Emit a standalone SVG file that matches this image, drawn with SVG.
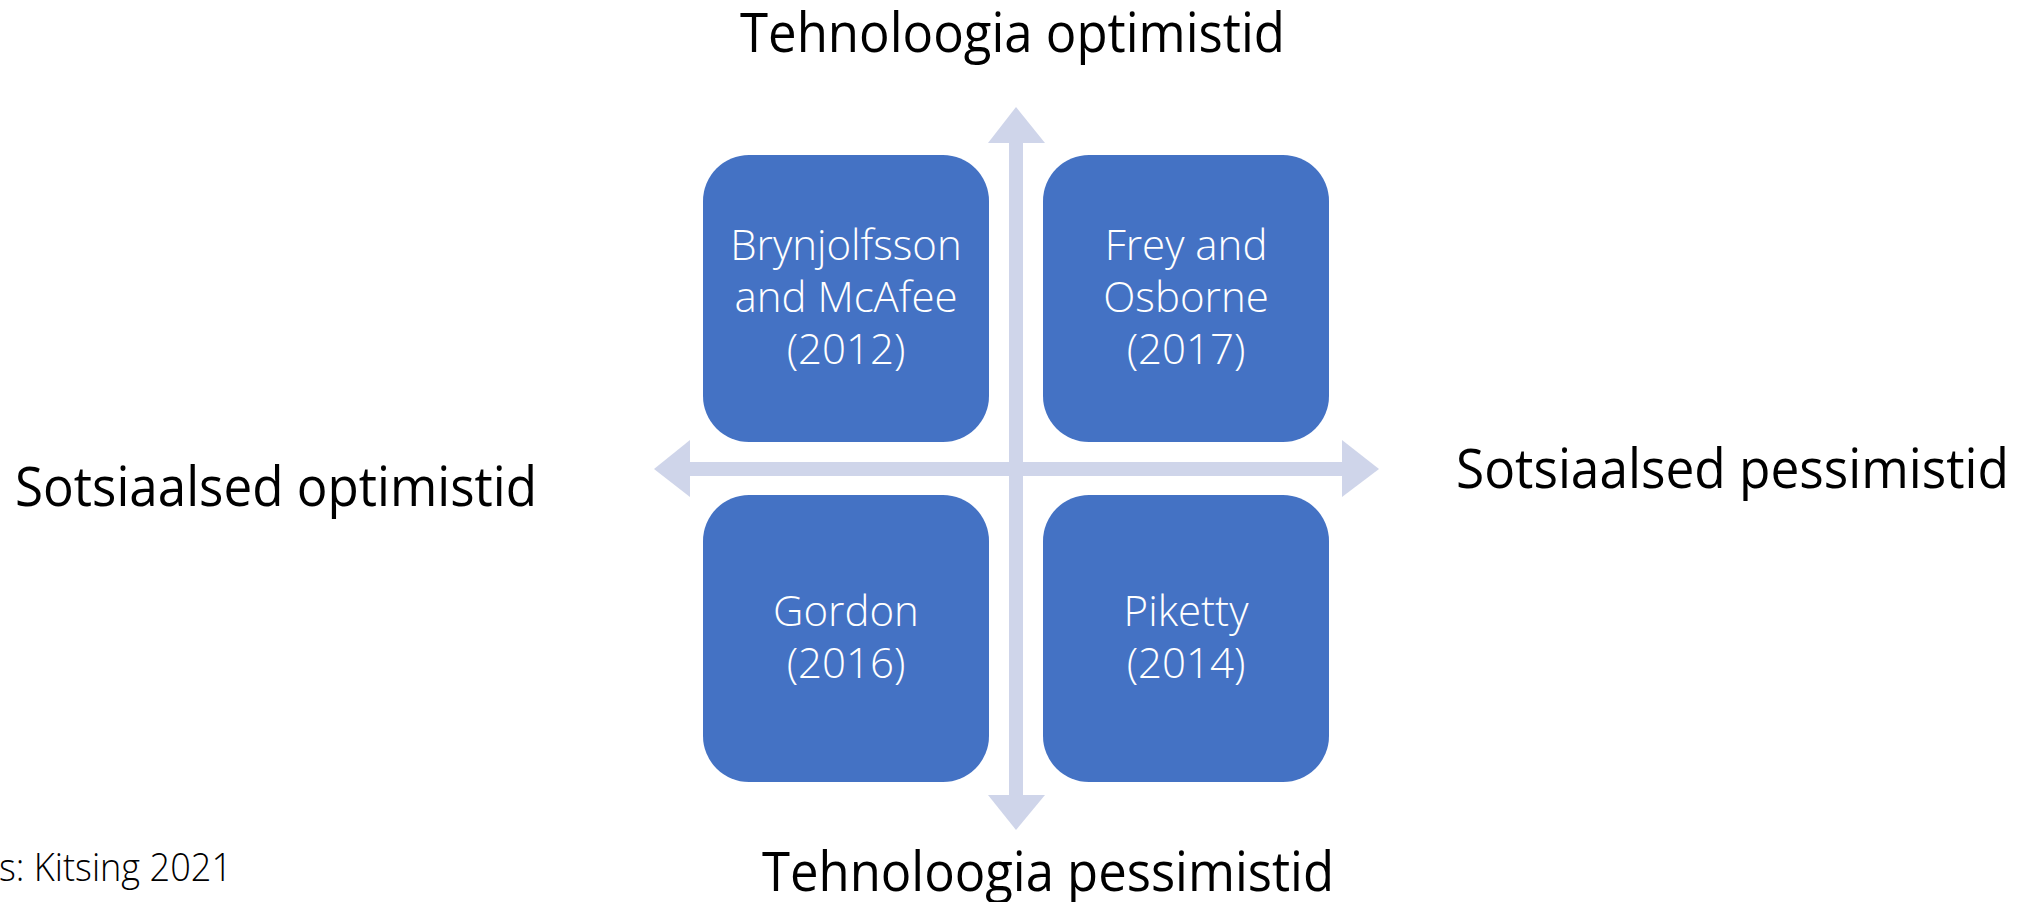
<svg xmlns="http://www.w3.org/2000/svg" width="2023" height="902" viewBox="0 0 2023 902">
  <style>
    .box { fill: #4472C4; }
    .arrow { fill: #CFD5EA; }
    .bt { font-family: "Open Sans", "Liberation Sans", sans-serif; font-weight: 300; font-size: 42px; fill: #FFFFFF; text-anchor: middle; }
    .lab { font-family: "Open Sans", "Liberation Sans", sans-serif; font-weight: 400; font-size: 55px; fill: #000000; }
    .src { font-family: "Open Sans", "Liberation Sans", sans-serif; font-weight: 300; font-size: 38px; fill: #000000; }
  </style>
  <rect width="2023" height="902" fill="#FFFFFF"/>
  <g id="connectors">
    <path class="arrow" d="M1009,142 L1009,795 L1023,795 L1023,142 Z"/>
    <polygon class="arrow" points="988,143 1016,107 1045,143"/>
    <polygon class="arrow" points="988,795 1016,830 1045,795"/>
    <path class="arrow" d="M690,462 L1342,462 L1342,476 L690,476 Z"/>
    <polygon class="arrow" points="690,440 654,469 690,497"/>
    <polygon class="arrow" points="1342,440 1379,469 1342,497"/>
  </g>
  <g id="node-brynjolfsson">
    <rect class="box" x="703" y="155" width="286" height="287" rx="46" ry="46"/>
    <text class="bt" x="846" y="260">Brynjolfsson</text>
    <text class="bt" x="846" y="312">and McAfee</text>
    <text class="bt" x="846" y="364">(2012)</text>
  </g>
  <g id="node-frey">
    <rect class="box" x="1043" y="155" width="286" height="287" rx="46" ry="46"/>
    <text class="bt" x="1186" y="260">Frey and</text>
    <text class="bt" x="1186" y="312">Osborne</text>
    <text class="bt" x="1186" y="364">(2017)</text>
  </g>
  <g id="node-gordon">
    <rect class="box" x="703" y="495" width="286" height="287" rx="46" ry="46"/>
    <text class="bt" x="846" y="626">Gordon</text>
    <text class="bt" x="846" y="678">(2016)</text>
  </g>
  <g id="node-piketty">
    <rect class="box" x="1043" y="495" width="286" height="287" rx="46" ry="46"/>
    <text class="bt" x="1186" y="626">Piketty</text>
    <text class="bt" x="1186" y="678">(2014)</text>
  </g>
  <g id="labels">
    <text class="lab" x="740" y="52" textLength="545" lengthAdjust="spacingAndGlyphs">Tehnoloogia optimistid</text>
    <text class="lab" x="762" y="891" textLength="572" lengthAdjust="spacingAndGlyphs">Tehnoloogia pessimistid</text>
    <text class="lab" x="15" y="506" textLength="522" lengthAdjust="spacingAndGlyphs">Sotsiaalsed optimistid</text>
    <text class="lab" x="1456" y="488" textLength="553" lengthAdjust="spacingAndGlyphs">Sotsiaalsed pessimistid</text>
    <text class="src" x="-1" y="881" textLength="233" lengthAdjust="spacingAndGlyphs">s: Kitsing 2021</text>
  </g>
</svg>
